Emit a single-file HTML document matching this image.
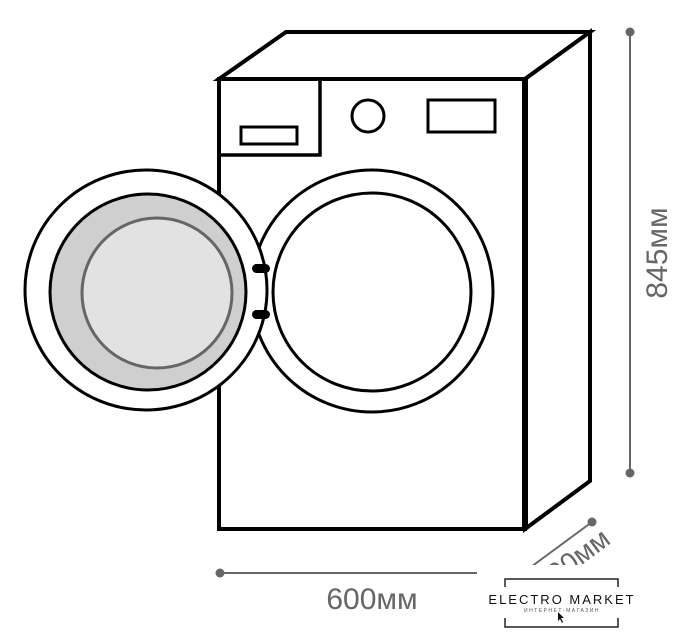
<!DOCTYPE html>
<html><head><meta charset="utf-8"><style>
html,body{margin:0;padding:0;background:#fff;width:694px;height:640px;overflow:hidden}
svg{display:block}
</style></head><body>
<svg width="694" height="640" viewBox="0 0 694 640" xmlns="http://www.w3.org/2000/svg">
<g fill="none" stroke="#000" stroke-linejoin="miter">
<polygon points="219,79 286,32 590,32 525,79" fill="#fff" stroke-width="4"/>
<polygon points="525,79 590,32 590,481 525,529" fill="#fff" stroke-width="4"/>
<rect x="219" y="79" width="306" height="450" fill="#fff" stroke-width="4"/>
<line x1="525" y1="79" x2="525" y2="529" stroke-width="6"/>
<rect x="219" y="79" width="101" height="76" stroke-width="3.5"/>
<rect x="241" y="127" width="56" height="17" stroke-width="3"/>
<circle cx="368" cy="116" r="16" stroke-width="3"/>
<rect x="428" y="100" width="67" height="32" stroke-width="3"/>
<circle cx="372" cy="291" r="121" fill="#fff" stroke-width="3"/>
<circle cx="372" cy="292" r="99" stroke-width="3"/>
<ellipse cx="146" cy="290" rx="121" ry="120" fill="#fff" stroke-width="3"/>
<circle cx="148" cy="292" r="98" fill="#cfcfcf" stroke-width="3"/>
<circle cx="157" cy="293" r="75" fill="#e2e2e2" stroke="#666" stroke-width="3"/>
</g>
<rect x="252" y="264" width="18" height="9" rx="4.5" fill="#000"/>
<rect x="252" y="310" width="18" height="9" rx="4.5" fill="#000"/>
<g stroke="#666" stroke-width="2" fill="#666">
<line x1="630" y1="32" x2="630" y2="473"/>
<circle cx="630" cy="32" r="4.5" stroke="none"/>
<circle cx="630" cy="473" r="4.5" stroke="none"/>
<line x1="220" y1="573" x2="477" y2="573"/>
<circle cx="220" cy="573" r="4.5" stroke="none"/>
<line x1="592" y1="522" x2="520" y2="575"/>
<circle cx="592" cy="522" r="4.5" stroke="none"/>
</g>
<text x="0" y="0" transform="translate(667,253) rotate(-90)" text-anchor="middle" font-family="Liberation Sans, sans-serif" font-size="30" fill="#666">845мм</text>
<text x="372" y="609" text-anchor="middle" font-family="Liberation Sans, sans-serif" font-size="30" fill="#666">600мм</text>
<text x="0" y="0" transform="translate(578,568) rotate(-37)" text-anchor="middle" font-family="Liberation Sans, sans-serif" font-size="28" fill="#666">600мм</text>
<rect x="488" y="565" width="160" height="75" fill="#fff"/>
<g stroke="#222" stroke-width="1.5" fill="none">
<polyline points="505,587 505,579 618,579 618,587"/>
<polyline points="505,618 505,627 618,627 618,618"/>
</g>
<text x="562" y="604" text-anchor="middle" font-family="Liberation Sans, sans-serif" font-size="13" letter-spacing="2" fill="#111">ELECTRO MARKET</text>
<text x="562" y="612" text-anchor="middle" font-family="Liberation Sans, sans-serif" font-size="5" letter-spacing="1.5" fill="#555">ИНТЕРНЕТ-МАГАЗИН</text>
<polygon points="558,612 558,621 560,619 562,623 563,622 561,618 564,618" fill="#111"/>
</svg>
</body></html>
